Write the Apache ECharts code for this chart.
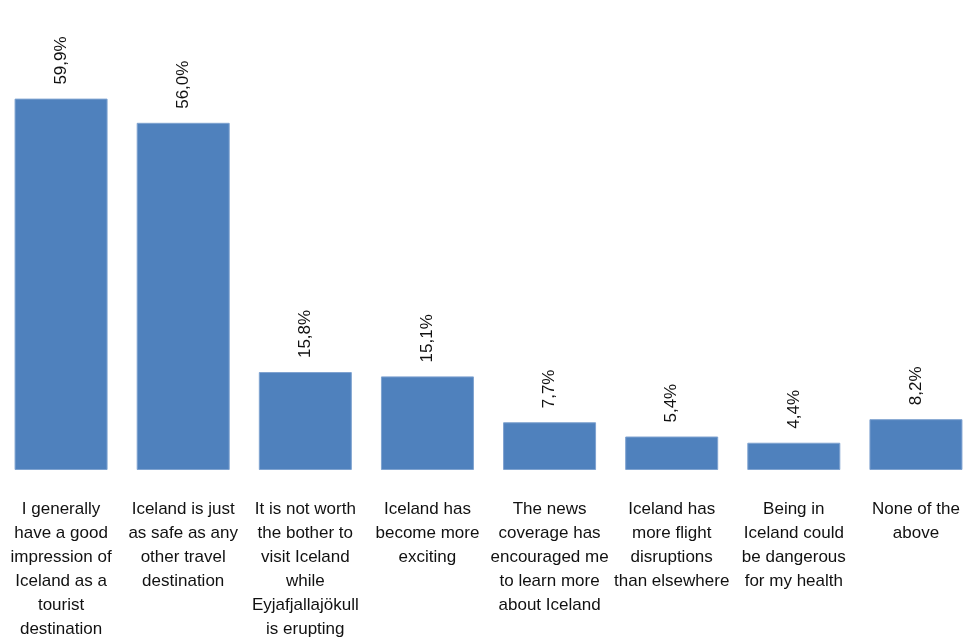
<!DOCTYPE html>
<html>
<head>
<meta charset="utf-8">
<style>
  html, body { margin: 0; padding: 0; background: #fff; }
  #chart { width: 963px; height: 642px; }
</style>
<script src="https://cdn.jsdelivr.net/npm/echarts@6/dist/echarts.min.js"></script>
</head>
<body>
<div id="chart"></div>
<script>
// Survey answers (category labels, wrapped as shown under each bar)
const categories = [
  'I generally\nhave a good\nimpression of\nIceland as a\ntourist\ndestination',
  'Iceland is just\nas safe as any\nother travel\ndestination',
  'It is not worth\nthe bother to\nvisit Iceland\nwhile\nEyjafjallajökull\nis erupting',
  'Iceland has\nbecome more\nexciting',
  'The news\ncoverage has\nencouraged me\nto learn more\nabout Iceland',
  'Iceland has\nmore flight\ndisruptions\nthan elsewhere',
  'Being in\nIceland could\nbe dangerous\nfor my health',
  'None of the\nabove'
];

// Share of respondents, percent
const shares = [59.9, 56.0, 15.8, 15.1, 7.7, 5.4, 4.4, 8.2];

const FONT = '"Liberation Sans", Arial, sans-serif';

const chart = echarts.init(document.getElementById('chart'));
chart.setOption({
  animation: false,
  // the plot runs slightly past the right edge, so the last bar is cut off
  grid: {
    left: 0, width: 977, top: 98, bottom: 172,
    containLabel: false,
    outerBoundsMode: 'none'
  },
  xAxis: {
    type: 'category',
    data: categories,
    axisLine: { show: false },
    axisTick: { show: false },
    axisLabel: {
      interval: 0,
      margin: 27,
      color: '#111',
      fontFamily: FONT,
      fontSize: 17,
      lineHeight: 24,
      align: 'center',
      hideOverlap: false
    }
  },
  yAxis: {
    type: 'value',
    min: 0,
    max: 60,
    show: false,
    splitLine: { show: false }
  },
  series: [{
    type: 'bar',
    data: shares,
    barWidth: 93,
    itemStyle: {
      color: '#4F81BD',
      borderColor: '#7FA3D0',
      borderWidth: 1
    },
    label: {
      show: true,
      position: 'top',
      rotate: 90,
      align: 'left',
      verticalAlign: 'middle',
      distance: 14,
      color: '#111',
      fontFamily: FONT,
      fontSize: 17,
      formatter: p => p.value.toFixed(1).replace('.', ',') + '%'
    }
  }]
});
</script>
</body>
</html>
